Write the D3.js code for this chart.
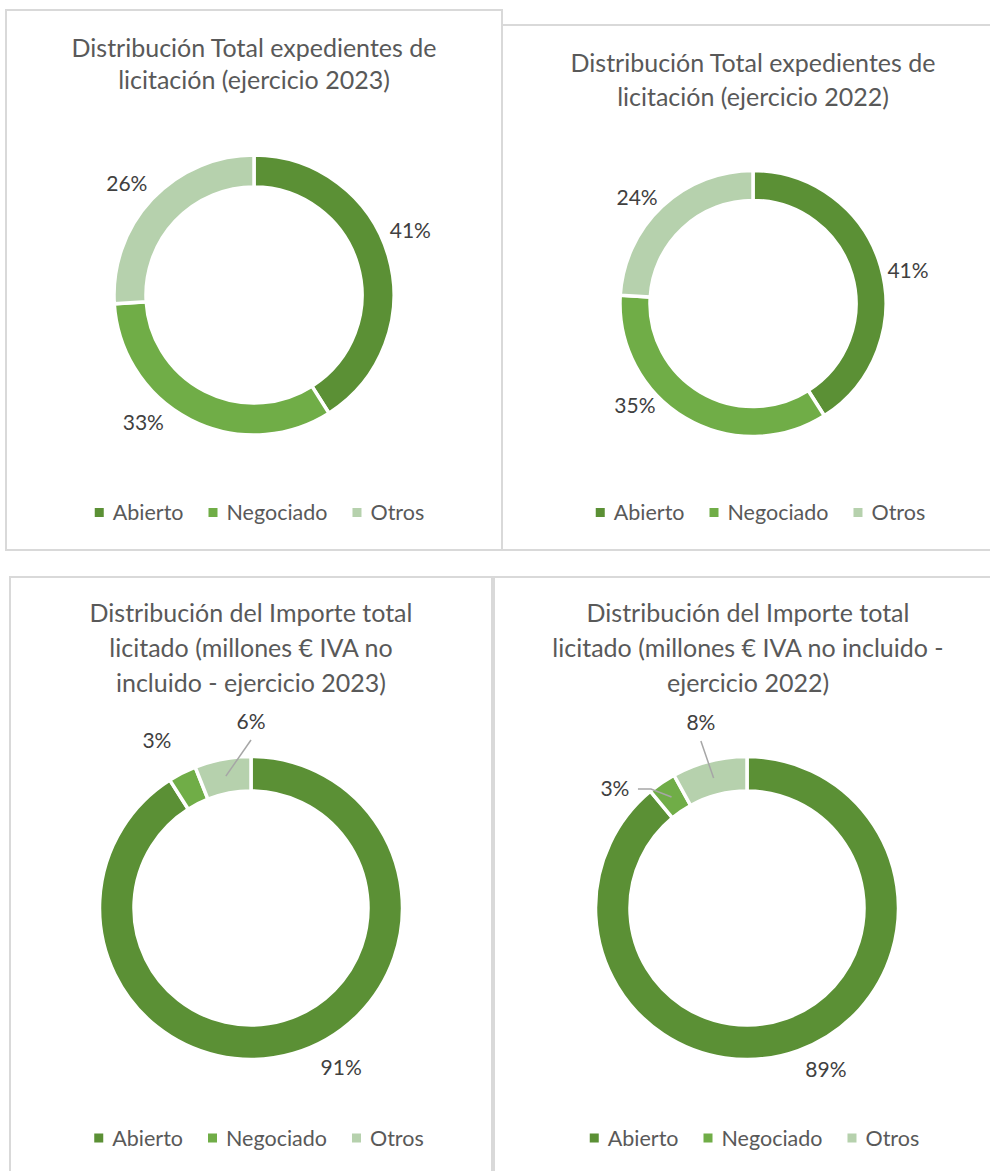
<!DOCTYPE html>
<html>
<head>
<meta charset="utf-8">
<script src="https://cdn.jsdelivr.net/npm/d3@7/dist/d3.min.js"></script>
<style>
  html, body { margin: 0; padding: 0; background: #ffffff; }
  svg { display: block; }
  text { font-family: Lato, "Open Sans", "Noto Sans", sans-serif; }
</style>
</head>
<body>
<svg id="chart" width="990" height="1171"></svg>
<script>
// Categories shared by all four doughnuts
const categories = ["Abierto", "Negociado", "Otros"];

// Share of tender files (%)
const expedientes2023 = [41, 33, 26];
const expedientes2022 = [41, 35, 24];

// Share of tendered amount (%)
const importe2023 = [91, 3, 6];
const importe2022 = [89, 3, 8];

// Titles
const titleExpedientes2023 = ["Distribución Total expedientes de", "licitación (ejercicio 2023)"];
const titleExpedientes2022 = ["Distribución Total expedientes de", "licitación (ejercicio 2022)"];
const titleImporte2023 = ["Distribución del Importe total", "licitado (millones € IVA no", "incluido - ejercicio 2023)"];
const titleImporte2022 = ["Distribución del Importe total", "licitado (millones € IVA no incluido -", "ejercicio 2022)"];

const colors = ["#5b9035", "#70ad47", "#b6d1ad"];
const textColor = "#595959";
const labelColor = "#404040";
const borderColor = "#d9d9d9";

const svg = d3.select("#chart");

// Panel frames
const frames = svg.append("g")
  .attr("fill", "none")
  .attr("stroke", borderColor)
  .attr("stroke-width", 2);
frames.append("rect").attr("x", 6).attr("y", 10).attr("width", 496).attr("height", 540);
frames.append("path").attr("d", "M502,25H992M502,550H992");
frames.append("rect").attr("x", 10).attr("y", 577).attr("width", 482).attr("height", 600);
frames.append("path").attr("d", "M492,577H992");
frames.append("line").attr("x1", 494).attr("x2", 494).attr("y1", 577).attr("y2", 1175);

// Per-panel layout; label placement is given as angle nudge (deg) from the slice mid-angle and distance from centre
const panels = [
  { values: expedientes2023, title: titleExpedientes2023, cx: 254, cy: 295, r: 140, ri: 108,
    titleX: 254, titleY: 48, lineH: 32.5, legendX: 259.5, legendY: 512.5,
    labels: [{ nudge: -6.1, dist: 169 }, { nudge: 13.9, dist: 169 }, { nudge: -2, dist: 169 }] },
  { values: expedientes2022, title: titleExpedientes2022, cx: 753, cy: 303.5, r: 133, ri: 103,
    titleX: 753, titleY: 63, lineH: 34, legendX: 760.5, legendY: 512.5,
    labels: [{ nudge: 4.2, dist: 158.5 }, { nudge: 18.6, dist: 156 }, { nudge: -4.4, dist: 157 }] },
  { values: importe2023, title: titleImporte2023, cx: 251, cy: 908, r: 151.5, ri: 117,
    titleX: 251, titleY: 613, lineH: 35, legendX: 259, legendY: 1138,
    labels: [{ nudge: -13.2, dist: 183.6 }, { nudge: -2.4, dist: 191.6 }, { nudge: 10.8, dist: 186, leader: "below" }] },
  { values: importe2022, title: titleImporte2022, cx: 747, cy: 908, r: 151.5, ri: 117,
    titleX: 748, titleY: 613, lineH: 35, legendX: 754.5, legendY: 1138,
    labels: [{ nudge: -6.2, dist: 180 }, { nudge: -13.8, dist: 177.7, leader: "right" }, { nudge: 0.4, dist: 190.6, leader: "below" }] }
];

const pie = d3.pie().sort(null).value(d => d);
const color = d3.scaleOrdinal().domain(categories).range(colors);

panels.forEach(p => {
  const g = svg.append("g");

  // Title
  const title = g.append("text")
    .attr("text-anchor", "middle")
    .attr("fill", textColor)
    .attr("font-size", 25);
  p.title.forEach((line, i) => {
    title.append("tspan")
      .attr("x", p.titleX)
      .attr("y", p.titleY + i * p.lineH)
      .attr("dy", "0.35em")
      .text(line);
  });

  // Doughnut
  const arcs = pie(p.values);
  const arc = d3.arc().innerRadius(p.ri).outerRadius(p.r);
  const ring = g.append("g").attr("transform", `translate(${p.cx},${p.cy})`);
  ring.selectAll("path.slice")
    .data(arcs)
    .join("path")
    .attr("class", "slice")
    .attr("d", arc)
    .attr("fill", (d, i) => color(categories[i]))
    .attr("stroke", "#ffffff")
    .attr("stroke-width", 3.5)
    .attr("stroke-linejoin", "miter");

  // Data labels and leader lines
  arcs.forEach((d, i) => {
    const cfg = p.labels[i];
    const mid = (d.startAngle + d.endAngle) / 2;
    const a = mid + cfg.nudge * Math.PI / 180;
    const lx = Math.sin(a) * cfg.dist;
    const ly = -Math.cos(a) * cfg.dist;
    const [ccx, ccy] = arc.centroid(d);
    if (cfg.leader === "below") {
      ring.append("path")
        .attr("d", `M${lx},${ly + 18}L${ccx},${ccy}`)
        .attr("fill", "none").attr("stroke", "#a6a6a6").attr("stroke-width", 1.5);
    } else if (cfg.leader === "right") {
      ring.append("path")
        .attr("d", `M${lx + 23},${ly}L${lx + 36},${ly}L${ccx},${ccy}`)
        .attr("fill", "none").attr("stroke", "#a6a6a6").attr("stroke-width", 1.5);
    }
    ring.append("text")
      .attr("x", lx)
      .attr("y", ly)
      .attr("dy", "0.35em")
      .attr("text-anchor", "middle")
      .attr("fill", labelColor)
      .attr("font-size", 21)
      .text(d3.format(".0%")(d.data / d3.sum(p.values)));
  });

  // Legend
  const legend = g.append("g");
  const items = legend.selectAll("g.item")
    .data(categories)
    .join("g")
    .attr("class", "item");
  items.append("rect")
    .attr("width", 9).attr("height", 9)
    .attr("y", p.legendY - 4.5)
    .attr("fill", d => color(d));
  items.append("text")
    .attr("y", p.legendY)
    .attr("dy", "0.35em")
    .attr("fill", textColor)
    .attr("font-size", 21.5)
    .text(d => d);
  let x = 0;
  items.each(function () {
    const item = d3.select(this);
    item.attr("transform", `translate(${x},0)`);
    item.select("text").attr("x", 18);
    x += 18 + item.select("text").node().getComputedTextLength() + 25;
  });
  const total = x - 25;
  legend.attr("transform", `translate(${p.legendX - total / 2},0)`);
});
</script>
</body>
</html>
